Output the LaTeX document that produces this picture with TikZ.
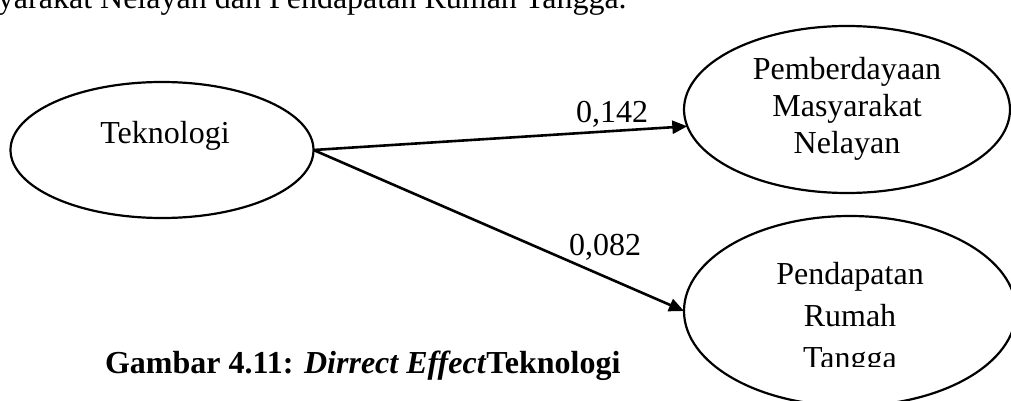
\documentclass[tikz,border=0pt]{standalone}
\usepackage{fontspec}
\setmainfont{Liberation Serif}
\usetikzlibrary{shapes.geometric,arrows.meta}
\begin{document}
\begin{tikzpicture}[x=1pt,y=-1pt,
  latent/.style={draw,ellipse,line width=2.2pt,inner sep=0pt,outer sep=0pt},
  txt/.style={inner sep=0pt,outer sep=0pt,anchor=base,font=\fontsize{32}{38}\selectfont},
  path/.style={line width=2.6pt,-{Triangle[length=15pt,width=13pt]}},
  coef/.style={txt,anchor=base west}]
\useasboundingbox (0,0) rectangle (1011,401);
\clip (0,0) rectangle (1011,401);

% running text of the page, cut at the edges
\node[txt,anchor=base west] (run) at (-2,9) {yarakat Nelayan dan Pendapatan Rumah Tangga.};

% latent variables
\node[latent,minimum width=303pt,minimum height=136pt] (tek) at (162,150) {};
\node[latent,minimum width=326pt,minimum height=167pt] (pmn) at (847,109.5) {};
\node[latent,minimum width=332pt,minimum height=190pt] (prt) at (850,311) {};

\node[txt] (tekL) at (165,143) {Teknologi};

\node[txt] (pmnA) at (847,80) {Pemberdayaan};
\node[txt] (pmnB) at (847,116.5) {Masyarakat};
\node[txt] (pmnC) at (847,153) {Nelayan};

\begin{scope}
  \clip (600,200) rectangle (1011,366.5);
  \node[txt] (prtA) at (850,284) {Pendapatan};
  \node[txt] (prtB) at (850,326.5) {Rumah};
  \node[txt] (prtC) at (850,368) {Tangga};
\end{scope}

% direct paths
\draw[path] (tek.east) -- (pmn.186.5);
\draw[path] (tek.east) -- (prt.west);

\node[coef] (c1) at (576,122) {0,142};
\node[coef] (c2) at (569,255) {0,082};

% caption
\node[txt,anchor=base west] (cap) at (105,373) {\textbf{Gambar 4.11: \textit{Dirrect Effect}Teknologi}};
\end{tikzpicture}
\end{document}
